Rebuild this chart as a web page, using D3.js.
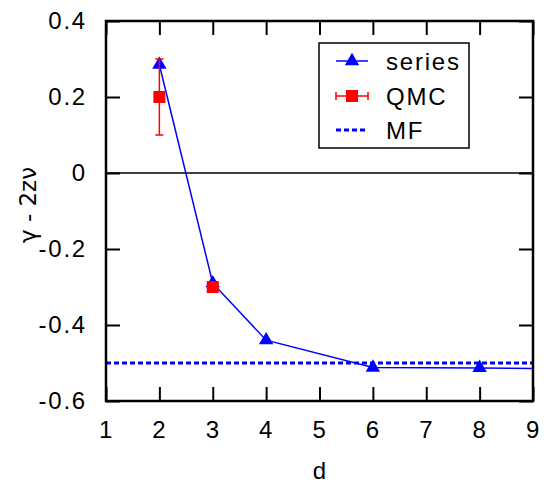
<!DOCTYPE html>
<html lang="en">
  <head>
    <meta charset="utf-8">
    <title>gamma - 2 z nu vs d</title>
    <style>
      body { margin: 0; background: white; }
      svg { display: block; }
      text { font-family: "Liberation Sans", Arial, sans-serif; fill: black; }
    </style>
    <script src="https://d3js.org/d3.v7.min.js"></script>
  </head>
  <body>
    <div class="chart"></div>
    <script>

    // series expansion
    const seriesD = [2, 3, 4, 6, 8, 10]
    const seriesVal = [0.285, -0.29, -0.44, -0.512, -0.513, -0.516]
    const seriesMarked = [true, true, true, true, true, false]

    // QMC with error bars
    const qmcD = [2, 3]
    const qmcVal = [0.2, -0.3]
    const qmcErr = [0.1, 0]

    // mean field
    const mfVal = -0.5

    const xTicks = [1, 2, 3, 4, 5, 6, 7, 8, 9]
    const yTicks = [0.4, 0.2, 0, -0.2, -0.4, -0.6]

    const W = 551, H = 485
    const margin = { top: 21, left: 106, bottom: 84, right: 18 }
    const width = W - margin.left - margin.right,
      height = H - margin.top - margin.bottom

    const fs = "24px", ls = "1.8px"

    const x = d3.scaleLinear().domain([1, 9]).range([0, width])
    const y = d3.scaleLinear().domain([-0.6, 0.4]).range([height, 0])

    const svg = d3.select(".chart")
      .append("svg")
      .attr("width", W)
      .attr("height", H)

    const g = svg.append("g")
      .attr("transform", `translate(${margin.left},${margin.top})`)

    g.append("clipPath").attr("id", "clip")
      .append("rect").attr("width", width).attr("height", height)

    // ticks (gnuplot style, inward, mirrored)
    const tickLen = 14
    const tickFmt = d => d === 0 ? "0" : d3.format(".1f")(d).replace("\u2212", "-")

    g.append("g")
      .attr("transform", `translate(0,${height})`)
      .call(d3.axisBottom(x).tickValues(xTicks).tickSize(-tickLen).tickPadding(20).tickFormat(d3.format("d")))
      .call(a => a.select(".domain").remove())
    g.append("g")
      .call(d3.axisTop(x).tickValues(xTicks).tickSize(-tickLen).tickFormat(""))
      .call(a => a.select(".domain").remove())
    g.append("g")
      .call(d3.axisLeft(y).tickValues(yTicks).tickSize(-tickLen).tickPadding(19).tickFormat(tickFmt))
      .call(a => a.select(".domain").remove())
    g.append("g")
      .attr("transform", `translate(${width},0)`)
      .call(d3.axisRight(y).tickValues(yTicks).tickSize(-tickLen).tickFormat(""))
      .call(a => a.select(".domain").remove())

    g.selectAll(".tick line").attr("stroke", "black").attr("stroke-width", 2)
    g.selectAll(".tick text")
      .style("font-size", fs)
      .style("letter-spacing", ls)
      .style("font-family", "'Liberation Sans', Arial, sans-serif")
      .attr("fill", "black")

    // zero line
    g.append("line")
      .attr("x1", 0).attr("x2", width)
      .attr("y1", y(0)).attr("y2", y(0))
      .attr("stroke", "black").attr("stroke-width", 1.5)

    const plot = g.append("g").attr("clip-path", "url(#clip)")

    // MF
    plot.append("line")
      .attr("x1", 0).attr("x2", width)
      .attr("y1", y(mfVal)).attr("y2", y(mfVal))
      .attr("stroke", "#0000ff").attr("stroke-width", 3)
      .attr("stroke-dasharray", "5,3")

    // series line
    const pts = seriesD.map((d, i) => [d, seriesVal[i], seriesMarked[i]])
    plot.append("path")
      .datum(pts)
      .attr("fill", "none")
      .attr("stroke", "#0000ff")
      .attr("stroke-width", 1.5)
      .attr("d", d3.line().x(d => x(d[0])).y(d => y(d[1])))

    const tri = d3.symbol().type(d3.symbolTriangle).size(90)
    plot.selectAll(".tri")
      .data(pts.filter(d => d[2]))
      .join("path")
      .attr("class", "tri")
      .attr("transform", d => `translate(${x(d[0])},${y(d[1])})`)
      .attr("d", tri)
      .attr("fill", "#0000ff")

    // QMC
    const qmc = qmcD.map((d, i) => ({ d: d, v: qmcVal[i], e: qmcErr[i] }))
    const eb = plot.selectAll(".eb")
      .data(qmc.filter(q => q.e > 0))
      .join("g")
      .attr("stroke", "#ff0000").attr("stroke-width", 1.5)
    eb.append("line")
      .attr("x1", q => x(q.d)).attr("x2", q => x(q.d))
      .attr("y1", q => y(q.v - q.e)).attr("y2", q => y(q.v + q.e))
    eb.append("line")
      .attr("x1", q => x(q.d) - 4).attr("x2", q => x(q.d) + 4)
      .attr("y1", q => y(q.v - q.e)).attr("y2", q => y(q.v - q.e))
    eb.append("line")
      .attr("x1", q => x(q.d) - 4).attr("x2", q => x(q.d) + 4)
      .attr("y1", q => y(q.v + q.e)).attr("y2", q => y(q.v + q.e))

    plot.selectAll(".sq")
      .data(qmc)
      .join("rect")
      .attr("class", "sq")
      .attr("x", q => x(q.d) - 6).attr("y", q => y(q.v) - 6)
      .attr("width", 12).attr("height", 12)
      .attr("fill", "#ff0000")

    // frame
    g.append("rect")
      .attr("width", width).attr("height", height)
      .attr("fill", "none").attr("stroke", "black").attr("stroke-width", 2.5)

    // legend
    const leg = g.append("g").attr("transform", `translate(${319 - margin.left},${43 - margin.top})`)
    leg.append("rect")
      .attr("width", 150).attr("height", 105)
      .attr("fill", "white").attr("stroke", "black").attr("stroke-width", 1.5)
    const rows = [18, 53, 87]
    const sx1 = 17, sx2 = 49, tx = 67
    // series
    leg.append("line").attr("x1", sx1).attr("x2", sx2).attr("y1", rows[0]).attr("y2", rows[0])
      .attr("stroke", "#0000ff").attr("stroke-width", 1.5)
    leg.append("path").attr("d", tri).attr("fill", "#0000ff")
      .attr("transform", `translate(${(sx1 + sx2) / 2},${rows[0]})`)
    // QMC
    leg.append("line").attr("x1", sx1).attr("x2", sx2).attr("y1", rows[1]).attr("y2", rows[1])
      .attr("stroke", "#ff0000").attr("stroke-width", 1.5)
    ;[sx1, sx2].forEach(xx => leg.append("line").attr("x1", xx).attr("x2", xx)
      .attr("y1", rows[1] - 4).attr("y2", rows[1] + 4).attr("stroke", "#ff0000").attr("stroke-width", 1.5))
    leg.append("rect").attr("x", (sx1 + sx2) / 2 - 6).attr("y", rows[1] - 6)
      .attr("width", 12).attr("height", 12).attr("fill", "#ff0000")
    // MF
    leg.append("line").attr("x1", sx1).attr("x2", sx2).attr("y1", rows[2]).attr("y2", rows[2])
      .attr("stroke", "#0000ff").attr("stroke-width", 3).attr("stroke-dasharray", "5,3")

    leg.selectAll(".lt")
      .data(["series", "QMC", "MF"])
      .join("text")
      .attr("x", tx).attr("y", (d, i) => rows[i])
      .attr("dy", "0.36em")
      .style("font-size", fs)
      .style("letter-spacing", ls)
      .text(d => d)

    // axis labels
    svg.append("text")
      .attr("x", margin.left + width / 2).attr("y", 479)
      .attr("text-anchor", "middle")
      .style("font-size", fs)
      .text("d")

    svg.append("text")
      .attr("transform", `translate(36,${margin.top + y(-0.1) - 6}) rotate(-90)`)
      .attr("text-anchor", "middle")
      .style("font-size", "23px")
      .style("font-family", "'DejaVu Sans', sans-serif")
      .text("\u03b3 - 2z\u03bd")

    </script>
  </body>
</html>
